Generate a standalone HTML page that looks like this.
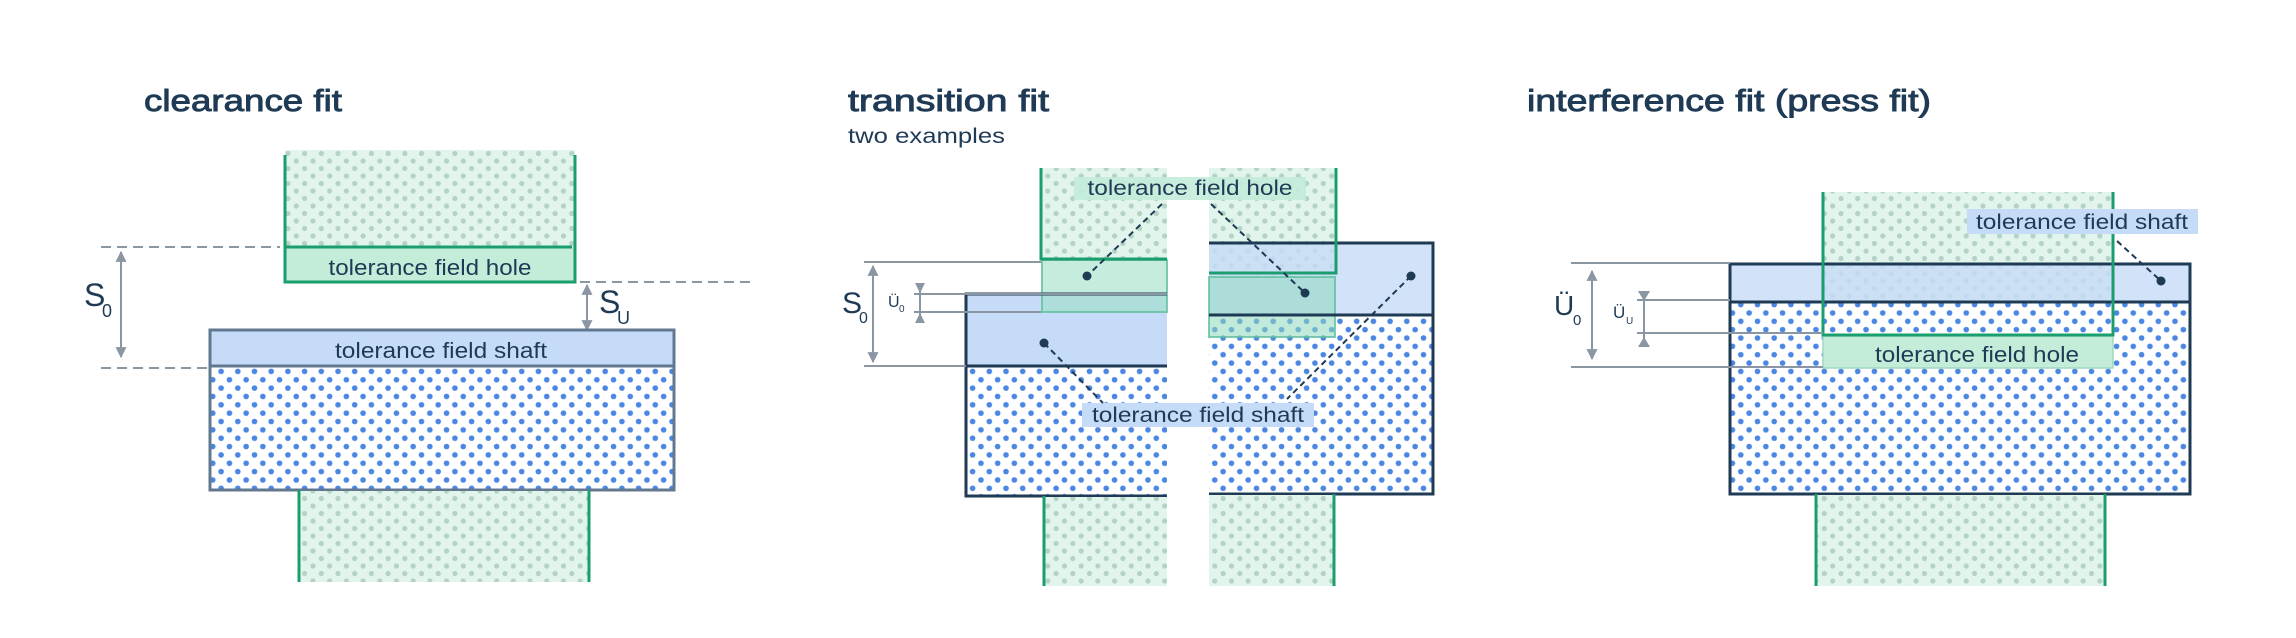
<!DOCTYPE html>
<html><head><meta charset="utf-8"><style>
html,body{margin:0;padding:0;background:#fff;}
svg{display:block;}
text{font-family:"Liberation Sans",sans-serif;fill:#1f3a55;}
.t{stroke:#1f3a55;stroke-width:0.9;}
</style></head><body>
<svg width="2296" height="638" viewBox="0 0 2296 638" xmlns="http://www.w3.org/2000/svg">
<defs>
<pattern id="gd" width="16.7" height="15" patternUnits="userSpaceOnUse">
<rect width="16.7" height="15" fill="#e2f5ec"/>
<circle cx="4" cy="3.5" r="2.6" fill="#b3d3c4"/>
<circle cx="12.35" cy="11" r="2.6" fill="#b3d3c4"/>
</pattern>
<pattern id="bd" width="16.7" height="16.7" patternUnits="userSpaceOnUse">
<rect width="16.7" height="16.7" fill="#fff"/>
<circle cx="4" cy="4" r="2.8" fill="#4a86e2"/>
<circle cx="12.35" cy="12.35" r="2.8" fill="#4a86e2"/>
</pattern>
<marker id="ar" viewBox="0 0 10 10" refX="9" refY="5" markerWidth="12" markerHeight="11" orient="auto-start-reverse" markerUnits="userSpaceOnUse">
<path d="M0,0 L10,5 L0,10 z" fill="#8a96a2"/>
</marker>
</defs>

<!-- ===== Panel 1: clearance fit ===== -->
<text class="t" x="144" y="111" font-size="31" textLength="198" lengthAdjust="spacingAndGlyphs">clearance fit</text>
<rect x="285" y="150" width="290" height="97" fill="url(#gd)"/>
<rect x="285" y="247" width="290" height="35" fill="#c3ecd9"/>
<path d="M285,155 V282 H575 V155 M285,247 H572" fill="none" stroke="#1a9e6e" stroke-width="3"/>
<text x="430" y="275" font-size="22" text-anchor="middle" textLength="203" lengthAdjust="spacingAndGlyphs">tolerance field hole</text>
<line x1="101" y1="247" x2="280" y2="247" stroke="#8a96a2" stroke-width="2" stroke-dasharray="10,6"/>
<line x1="580" y1="282" x2="752" y2="282" stroke="#8a96a2" stroke-width="2" stroke-dasharray="10,6"/>
<line x1="101" y1="368" x2="210" y2="368" stroke="#8a96a2" stroke-width="2" stroke-dasharray="10,6"/>
<line x1="121" y1="252" x2="121" y2="357" stroke="#8a96a2" stroke-width="2" marker-start="url(#ar)" marker-end="url(#ar)"/>
<line x1="587" y1="285" x2="587" y2="330" stroke="#8a96a2" stroke-width="2" marker-start="url(#ar)" marker-end="url(#ar)"/>
<text x="84" y="306" font-size="32">S</text><text x="102" y="317" font-size="18">0</text>
<text x="599" y="313" font-size="32">S</text><text x="617" y="324" font-size="18">U</text>
<rect x="210" y="366" width="464" height="124" fill="url(#bd)"/>
<rect x="210" y="330" width="464" height="36" fill="#c5dbf8"/>
<rect x="210" y="330" width="464" height="160" fill="none" stroke="#607890" stroke-width="3"/>
<line x1="210" y1="366" x2="674" y2="366" stroke="#607890" stroke-width="3"/>
<text x="441" y="358" font-size="22" text-anchor="middle" textLength="212" lengthAdjust="spacingAndGlyphs">tolerance field shaft</text>
<rect x="299" y="491" width="290" height="91" fill="url(#gd)"/>
<path d="M299,490 V582 M589,490 V582" stroke="#1a9e6e" stroke-width="3"/>

<!-- ===== Panel 2: transition fit ===== -->
<text class="t" x="848" y="111" font-size="31" textLength="201" lengthAdjust="spacingAndGlyphs">transition fit</text>
<text x="848" y="143" font-size="21" textLength="157" lengthAdjust="spacingAndGlyphs">two examples</text>
<rect x="1041" y="168" width="126" height="91" fill="url(#gd)"/>
<rect x="966" y="366" width="201" height="130" fill="url(#bd)"/>
<rect x="966" y="294" width="201" height="72" fill="#c5dbf8"/>
<rect x="1042" y="260" width="125" height="52" fill="#9fe0c6" fill-opacity="0.6" stroke="#5fbf9f" stroke-opacity="0.8" stroke-width="2"/>
<path d="M1167,294 H966 V496 H1167 M966,366 H1167" fill="none" stroke="#1f3a55" stroke-width="3"/>
<path d="M1041,168 V259 H1167" fill="none" stroke="#1a9e6e" stroke-width="3"/>
<rect x="1044" y="497" width="123" height="89" fill="url(#gd)"/>
<line x1="1044" y1="496" x2="1044" y2="586" stroke="#1a9e6e" stroke-width="3"/>
<rect x="1209" y="168" width="127" height="108" fill="url(#gd)"/>
<rect x="1209" y="315" width="224" height="179" fill="url(#bd)"/>
<rect x="1209" y="243" width="224" height="72" fill="#c5dbf8" fill-opacity="0.8"/>
<rect x="1209" y="277" width="126" height="60" fill="#8fd8bd" fill-opacity="0.55" stroke="#5fbf9f" stroke-opacity="0.8" stroke-width="2"/>
<path d="M1209,243 H1433 V494 H1209 M1209,315 H1433" fill="none" stroke="#1f3a55" stroke-width="3"/>
<path d="M1336,168 V273 H1209" fill="none" stroke="#1a9e6e" stroke-width="3"/>
<rect x="1209" y="495" width="125" height="91" fill="url(#gd)"/>
<line x1="1334" y1="494" x2="1334" y2="586" stroke="#1a9e6e" stroke-width="3"/>
<g stroke="#8a96a2" stroke-width="2">
<line x1="864" y1="262" x2="1041" y2="262"/>
<line x1="914" y1="294" x2="1167" y2="294"/>
<line x1="914" y1="312" x2="1041" y2="312"/>
<line x1="864" y1="366" x2="966" y2="366"/>
<line x1="920" y1="283" x2="920" y2="323"/>
</g>
<line x1="873" y1="266" x2="873" y2="362" stroke="#8a96a2" stroke-width="2" marker-start="url(#ar)" marker-end="url(#ar)"/>
<path d="M915,283 H925 L920,293 z M915,323 H925 L920,313 z" fill="#8a96a2"/>
<text x="842" y="313" font-size="30">S</text><text x="859" y="323" font-size="16">0</text>
<text x="888" y="307" font-size="16">Ü</text><text x="899" y="312" font-size="10">0</text>
<rect x="1074" y="177" width="232" height="23" fill="#c3ecd9" fill-opacity="0.9"/>
<text x="1190" y="195" font-size="21" text-anchor="middle" textLength="205" lengthAdjust="spacingAndGlyphs">tolerance field hole</text>
<rect x="1082" y="403" width="232" height="24" fill="#c5dbf8"/>
<text x="1198" y="422" font-size="21" text-anchor="middle" textLength="212" lengthAdjust="spacingAndGlyphs">tolerance field shaft</text>
<g stroke="#1f3a55" stroke-width="2" stroke-dasharray="6,4">
<line x1="1162" y1="204" x2="1087" y2="276"/>
<line x1="1211" y1="204" x2="1305" y2="293"/>
<line x1="1044" y1="343" x2="1103" y2="403"/>
<line x1="1411" y1="276" x2="1287" y2="399"/>
</g>
<g fill="#1f3a55"><circle cx="1087" cy="276" r="4.5"/><circle cx="1305" cy="293" r="4.5"/><circle cx="1044" cy="343" r="4.5"/><circle cx="1411" cy="276" r="4.5"/></g>

<!-- ===== Panel 3: interference fit ===== -->
<text class="t" x="1527" y="111" font-size="31" textLength="404" lengthAdjust="spacingAndGlyphs">interference fit (press fit)</text>
<rect x="1823" y="192" width="290" height="110" fill="url(#gd)"/>
<rect x="1730" y="302" width="460" height="192" fill="url(#bd)"/>
<rect x="1730" y="264" width="460" height="38" fill="#c5dbf8" fill-opacity="0.8"/>
<rect x="1823" y="336" width="290" height="32" fill="#c3ecd9" stroke="#9fd9c0" stroke-width="1.5"/>
<path d="M1730,264 H2190 V494 H1730 Z M1730,302 H2190" fill="none" stroke="#1f3a55" stroke-width="3"/>
<path d="M1823,192 V335 H2113 V192" fill="none" stroke="#1a9e6e" stroke-width="3"/>
<text x="1977" y="362" font-size="22" text-anchor="middle" textLength="204" lengthAdjust="spacingAndGlyphs">tolerance field hole</text>
<rect x="1816" y="495" width="289" height="91" fill="url(#gd)"/>
<path d="M1816,494 V586 M2105,494 V586" stroke="#1a9e6e" stroke-width="3"/>
<g stroke="#8a96a2" stroke-width="2">
<line x1="1571" y1="263" x2="1730" y2="263"/>
<line x1="1637" y1="300" x2="1730" y2="300"/>
<line x1="1637" y1="333" x2="1823" y2="333"/>
<line x1="1571" y1="367" x2="1823" y2="367"/>
<line x1="1644" y1="292" x2="1644" y2="345"/>
</g>
<line x1="1592" y1="271" x2="1592" y2="359" stroke="#8a96a2" stroke-width="2" marker-start="url(#ar)" marker-end="url(#ar)"/>
<path d="M1638,291 H1650 L1644,301 z M1638,347 H1650 L1644,337 z" fill="#8a96a2"/>
<text x="1554" y="315" font-size="28">Ü</text><text x="1573" y="325" font-size="15">0</text>
<text x="1613" y="318" font-size="17">Ü</text><text x="1626" y="324" font-size="10">U</text>
<rect x="1967" y="209" width="231" height="25" fill="#c5dbf8"/>
<text x="2082" y="229" font-size="21" text-anchor="middle" textLength="212" lengthAdjust="spacingAndGlyphs">tolerance field shaft</text>
<line x1="2117" y1="241" x2="2161" y2="281" stroke="#1f3a55" stroke-width="2" stroke-dasharray="6,4"/>
<circle cx="2161" cy="281" r="4.5" fill="#1f3a55"/>
</svg>
</body></html>
